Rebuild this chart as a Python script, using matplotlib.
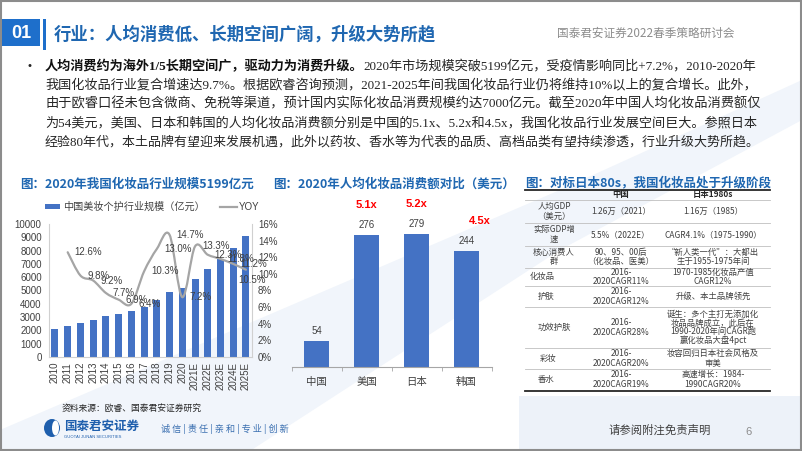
import matplotlib
matplotlib.use('Agg')
import matplotlib.pyplot as plt
from matplotlib.path import Path
from matplotlib.patches import PathPatch, Rectangle, Polygon, Ellipse
import matplotlib.ticker as mticker

# ---------------- data ----------------
years = ['2010', '2011', '2012', '2013', '2014', '2015', '2016', '2017', '2018',
         '2019', '2020', '2021E', '2022E', '2023E', '2024E', '2025E']
market_size = [2100, 2350, 2580, 2800, 3060, 3230, 3460, 3780, 4290, 4860,
               5199, 5900, 6620, 7400, 8230, 9080]
yoy = [None, 12.6, 9.8, 9.2, 7.7, 6.9, 6.4, 10.3, 13.0, 14.7, 7.2,
       13.3, 12.3, 11.8, 11.2, 10.5]

countries = ['中国', '美国', '日本', '韩国']
per_capita = [54, 276, 279, 244]
multiples = ['', '5.1x', '5.2x', '4.5x']

table_header = ['', '中国', '日本1980s']
table_rows = [
    ['人均GDP\n（美元）', '1.26万（2021）', '1.16万（1985）'],
    ['实际GDP增\n速', '5.5%（2022E）', 'CAGR4.1%（1975-1990）'],
    ['核心消费人\n群', '90、95、00后\n（化妆品、医美）', '“新人类一代”：大都出\n生于1955-1975年间'],
    ['化妆品', '2016-\n2020CAGR11%', '1970-1985化妆品产值\nCAGR12%'],
    ['护肤', '2016-\n2020CAGR12%', '升级、本土品牌领先'],
    ['功效护肤', '2016-\n2020CAGR28%', '诞生：多个主打无添加化\n妆品品牌成立，此后在\n1990-2020年间CAGR跑\n赢化妆品大盘4pct'],
    ['彩妆', '2016-\n2020CAGR20%', '妆容回归日本社会风格及\n审美'],
    ['香水', '2016-\n2020CAGR19%', '高速增长：1984-\n1990CAGR20%'],
]

bullet_bold = '人均消费约为海外1/5长期空间广，驱动力为消费升级。'
bullet_lines = [
    '2020年市场规模突破5199亿元，受疫情影响同比+7.2%，2010-2020年',
    '我国化妆品行业复合增速达9.7%。根据欧睿咨询预测，2021-2025年间我国化妆品行业仍将维持10%以上的复合增长。此外，',
    '由于欧睿口径未包含微商、免税等渠道，预计国内实际化妆品消费规模约达7000亿元。截至2020年中国人均化妆品消费额仅',
    '为54美元，美国、日本和韩国的人均化妆品消费额分别是中国的5.1x、5.2x和4.5x，我国化妆品行业发展空间巨大。参照日本',
    '经验80年代，本土品牌有望迎来发展机遇，此外以药妆、香水等为代表的品质、高档品类有望持续渗透，行业升级大势所趋。',
]

# ---------------- style ----------------
CJK = 'Noto Sans CJK SC'
SANS = ['Liberation Sans', CJK]
SERIF = ['Liberation Serif', CJK]
plt.rcParams['font.family'] = [CJK, 'DejaVu Sans']
BLUE = '#4472C4'
TITLE_BLUE = '#1F67B1'
DARK = '#404040'

W, H = 802, 451
fig = plt.figure(figsize=(W / 100, H / 100), dpi=100)
fig.patch.set_facecolor('white')


def rect(x0, y0, x1, y1):
    return [x0 / W, 1 - y1 / H, (x1 - x0) / W, (y1 - y0) / H]


bg = fig.add_axes([0, 0, 1, 1])
bg.set_xlim(0, W); bg.set_ylim(H, 0); bg.axis('off'); bg.set_zorder(0)
fg = fig.add_axes([0, 0, 1, 1])
fg.set_xlim(0, W); fg.set_ylim(H, 0); fg.axis('off'); fg.set_zorder(10)
fg.patch.set_visible(False)

# faint background shapes
bg.add_patch(Polygon([(0, 451), (0, 430), (560, 190), (802, 80), (802, 120),
                      (560, 250), (250, 451)], closed=True, color='#F1F5FB', lw=0))
bg.add_patch(Rectangle((519, 396), 283, 55, color='#EDF2F9', lw=0))

# frame
fg.add_patch(Rectangle((1, 1), 800, 449, fill=False, ec='#8C8C8C', lw=1.5))

# header
fg.add_patch(Rectangle((2, 19), 38, 27, color='#1E6FCB', lw=0))
fg.text(21, 33, '01', color='white', fontsize=13, fontweight='bold',
        family=SANS, ha='center', va='center')
fg.add_patch(Rectangle((43, 19), 3, 31, color='#1E6FCB', lw=0))
fg.text(54, 34, '行业：人均消费低、长期空间广阔，升级大势所趋', color=TITLE_BLUE,
        fontsize=12.5, fontweight='bold', ha='left', va='center')
fg.text(734, 33, '国泰君安证券2022春季策略研讨会', color='#8C8C8C', fontsize=8.4,
        ha='right', va='center')

# bullet paragraph (fit each line to the justified width)
renderer = fig.canvas.get_renderer()
x_left, x_right = 45, 757
line_ys = [66, 85, 104, 123, 142]
fg.text(30, 66, '•', fontsize=8, color='#262626', ha='center', va='center', family=SANS)
t1 = fg.text(x_left, line_ys[0], bullet_bold, fontsize=9.2, fontweight='bold',
             family=SERIF, color='#111111', ha='left', va='center')
t2 = fg.text(x_left, line_ys[0], bullet_lines[0], fontsize=9.2, family=SERIF,
             color='#262626', ha='left', va='center')
w1 = t1.get_window_extent(renderer).width
w2 = t2.get_window_extent(renderer).width
s = (x_right - x_left) / (w1 + w2)
t1.set_fontsize(9.2 * s); t2.set_fontsize(9.2 * s)
w1 = t1.get_window_extent(renderer).width
t2.set_x(x_left + w1)
for txt, y in zip(bullet_lines[1:], line_ys[1:]):
    t = fg.text(x_left, y, txt, fontsize=9.2, family=SERIF, color='#262626',
                ha='left', va='center')
    w = t.get_window_extent(renderer).width
    t.set_fontsize(9.2 * (x_right - x_left) / w)

# ---------------- left chart ----------------
fg.text(20, 184, '图：2020年我国化妆品行业规模5199亿元', color=TITLE_BLUE, fontsize=9,
        fontweight='bold', ha='left', va='center')
fg.add_patch(Rectangle((45, 204), 15, 5, color=BLUE, lw=0))
fg.text(63, 207, '中国美妆个护行业规模（亿元）', fontsize=7.3, color=DARK, ha='left', va='center')
fg.plot([220, 237], [207, 207], color='#A5A5A5', lw=1.6)
fg.text(239, 207, 'YOY', fontsize=7, color=DARK, ha='left', va='center', family=SANS)

ax1 = fig.add_axes(rect(48.6, 224, 252.3, 357))
ax1.set_zorder(2)
ax1.patch.set_visible(False)
xs = list(range(len(years)))
ax1.bar(xs, market_size, width=0.55, color=BLUE, zorder=2)
ax1.set_xlim(-0.5, len(years) - 0.5)
ax1.set_ylim(0, 10000)
ax1.set_yticks(range(0, 10001, 1000))
ax1.set_xticks(xs)
ax1.set_xticklabels(years, rotation=90)
ax1.spines['top'].set_visible(False)
for sp in ['left', 'right', 'bottom']:
    ax1.spines[sp].set_color('#D0D0D0'); ax1.spines[sp].set_linewidth(0.8)
ax1.tick_params(axis='y', length=0, pad=5, labelsize=7, labelcolor=DARK)
ax1.tick_params(axis='x', length=0, pad=3.5, labelsize=7, labelcolor=DARK)
for lab in ax1.get_xticklabels() + ax1.get_yticklabels():
    lab.set_family(SANS)

ax2 = ax1.twinx()
ax2.set_zorder(2.1)
ax2.patch.set_visible(False)
ax2.set_ylim(0, 16)
ax2.set_yticks(range(0, 17, 2))
ax2.yaxis.set_major_formatter(mticker.FuncFormatter(lambda v, p: f'{int(v)}%'))
ax2.tick_params(axis='y', length=0, pad=4, labelsize=7, labelcolor=DARK)
for lab in ax2.get_yticklabels():
    lab.set_family(SANS)
for sp in ax2.spines.values():
    sp.set_visible(False)

pts = [(i, v) for i, v in enumerate(yoy) if v is not None]
verts = [pts[0]]
codes = [Path.MOVETO]
for i in range(len(pts) - 1):
    p0 = pts[i - 1] if i > 0 else pts[i]
    p1, p2 = pts[i], pts[i + 1]
    p3 = pts[i + 2] if i + 2 < len(pts) else pts[i + 1]
    c1 = (p1[0] + (p2[0] - p0[0]) / 6, p1[1] + (p2[1] - p0[1]) / 6)
    c2 = (p2[0] - (p3[0] - p1[0]) / 6, p2[1] - (p3[1] - p1[1]) / 6)
    verts += [c1, c2, p2]
    codes += [Path.CURVE4] * 3
ax2.add_patch(PathPatch(Path(verts, codes), fc='none', ec='#A5A5A5', lw=1.6,
                        zorder=3, capstyle='round', joinstyle='round'))
for k, (i, v) in enumerate(pts):
    if k == len(pts) - 1:
        off = (-8, -10)
    else:
        off = (7, 0)
    ax2.annotate(f'{v:.1f}%', (i, v), xytext=off, textcoords='offset pixels',
                 ha='left', va='center', fontsize=7, color=DARK, family=SANS, zorder=4)

# ---------------- middle chart ----------------
fg.text(273, 184, '图：2020年人均化妆品消费额对比（美元）', color=TITLE_BLUE, fontsize=9,
        fontweight='bold', ha='left', va='center')
ax3 = fig.add_axes(rect(291.5, 224, 491.5, 367))
ax3.set_zorder(2)
ax3.patch.set_visible(False)
cx = list(range(len(countries)))
ax3.bar(cx, per_capita, width=0.5, color=BLUE)
ax3.set_xlim(-0.5, len(countries) - 0.5)
ax3.set_ylim(0, 300)
ax3.set_yticks([])
for sp in ['top', 'left', 'right']:
    ax3.spines[sp].set_visible(False)
ax3.spines['bottom'].set_color('#A6A6A6')
ax3.set_xticks(cx)
ax3.set_xticklabels(countries)
ax3.set_xticks([c - 0.5 for c in cx] + [len(cx) - 0.5], minor=True)
ax3.tick_params(axis='x', which='major', length=0, pad=7, labelsize=7.5, labelcolor=DARK)
ax3.tick_params(axis='x', which='minor', length=3, color='#A6A6A6', direction='out')
for i, v in enumerate(per_capita):
    ax3.annotate(str(v), (i, v), xytext=(0, 5), textcoords='offset pixels',
                 ha='center', va='bottom', fontsize=7, color=DARK, family=SANS)
mult_dx = [0, 0, 0, 13]
for i, (v, m) in enumerate(zip(per_capita, multiples)):
    if m:
        ax3.annotate(m, (i, v), xytext=(mult_dx[i], 30), textcoords='offset pixels',
                     ha='center', va='center', fontsize=8, color='#FF0000',
                     fontweight='bold', family=SANS)

# ---------------- right table ----------------
fg.text(525, 183, '图：对标日本80s，我国化妆品处于升级阶段', color=TITLE_BLUE, fontsize=9,
        fontweight='bold', ha='left', va='center')
tx0, tx1 = 525, 770
row_edges = [199.5, 223, 246, 268, 286, 306.5, 348, 369, 390.5]
fg.plot([tx0, tx1], [189.5, 189.5], color='#262626', lw=1.3)
fg.plot([tx0, tx1], [390.5, 390.5], color='#262626', lw=1.3)
for y in row_edges[:-1]:
    fg.plot([tx0, tx1], [y, y], color='#BFBFBF', lw=0.6)
col_x = [554, 621, 713]
fg.text(col_x[1], 194.8, table_header[1], fontsize=6, fontweight='bold', color='#262626',
        ha='center', va='center')
fg.text(col_x[2], 194.8, table_header[2], fontsize=6, fontweight='bold', color='#262626',
        ha='center', va='center')
first_col_left = [None, None, None, 530, 538, 538, 540, 538]
for r, row in enumerate(table_rows):
    yc = (row_edges[r] + row_edges[r + 1]) / 2
    for c, cell in enumerate(row):
        lines = cell.split('\n')
        dy = 8.7 if len(lines) > 2 else 9.8
        y0 = yc - dy * (len(lines) - 1) / 2
        for k, ln in enumerate(lines):
            if c == 0 and first_col_left[r] is not None:
                x, ha = first_col_left[r], 'left'
            else:
                x, ha = col_x[c], 'center'
            fg.text(x, y0 + k * dy, ln, fontsize=6, color=DARK, ha=ha, va='center')

# ---------------- footer ----------------
fg.text(62, 408, '资料来源：欧睿、国泰君安证券研究', fontsize=6.3, color='#262626',
        ha='left', va='center')
fg.add_patch(Ellipse((52, 428), 16, 18, color='#1F5FAD', lw=0))
fg.add_patch(Ellipse((55.5, 428), 7, 15, color='white', lw=0))
fg.text(64, 426, '国泰君安证券', fontsize=9, fontweight='bold', color='#1F5FAD',
        ha='left', va='center')
fg.text(64, 437, 'GUOTAI JUNAN SECURITIES', fontsize=3, color='#1F5FAD',
        ha='left', va='center', family=SANS)
fg.text(161, 429, '诚 信 | 责 任 | 亲 和 | 专 业 | 创 新', fontsize=6.6, color='#3A6FB0',
        ha='left', va='center')
fg.text(609, 430, '请参阅附注免责声明', fontsize=8.2, color='#404040', ha='left', va='center')
fg.text(748, 432, '6', fontsize=8, color='#8C8C8C', ha='center', va='center', family=SANS)

fig.savefig('out.png', dpi=100, facecolor='white')
